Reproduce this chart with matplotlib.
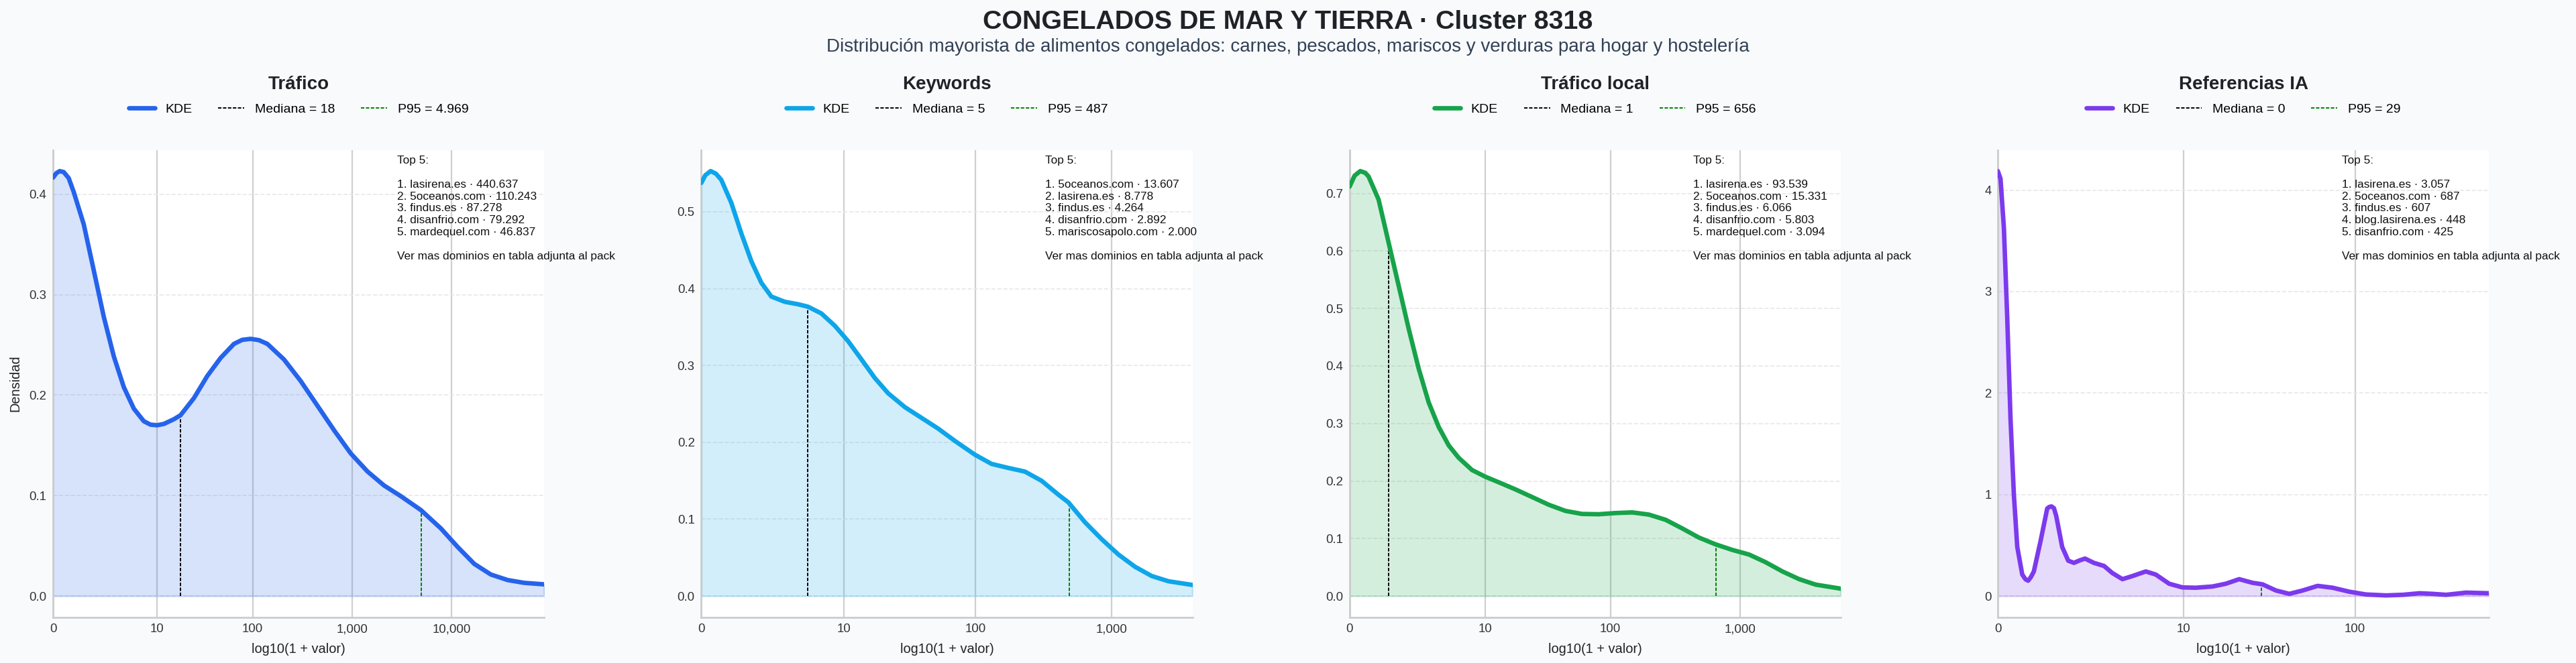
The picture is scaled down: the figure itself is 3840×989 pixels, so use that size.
import numpy as np
import matplotlib
matplotlib.use("Agg")
from matplotlib import pyplot as plt

# ---- datos (eje x = log10(1 + valor)) ----
titulos = ["Tráfico", "Keywords", "Tráfico local", "Referencias IA"]
colores = ["#2563eb", "#0ea5e9", "#16a34a", "#7c3aed"]
medianas = [18, 5, 1, 0]
p95 = [4969, 487, 656, 29]

# curva KDE de cada panel (x en log10(1+valor), y densidad)
kde_x_trafico = [0.0, 0.0335, 0.067, 0.107, 0.157, 0.208, 0.308, 0.409, 0.509, 0.610,
                 0.710, 0.811, 0.911, 0.978, 1.045, 1.112, 1.213, 1.280, 1.414, 1.548,
                 1.682, 1.816, 1.899, 1.983, 2.067, 2.151, 2.318, 2.486, 2.653, 2.821,
                 2.988, 3.156, 3.323, 3.491, 3.692, 3.893, 4.060, 4.228, 4.395, 4.563,
                 4.730, 4.930]
kde_y_trafico = [0.4165, 0.421, 0.423, 0.422, 0.416, 0.402, 0.370, 0.324, 0.278, 0.2385,
                 0.208, 0.1865, 0.174, 0.1706, 0.170, 0.1713, 0.176, 0.180, 0.197, 0.219,
                 0.237, 0.251, 0.255, 0.256, 0.2547, 0.251, 0.2355, 0.214, 0.1896, 0.165,
                 0.142, 0.124, 0.110, 0.0994, 0.0856, 0.0673, 0.049, 0.032, 0.0214, 0.0159,
                 0.0131, 0.0116]

kde_x_keywords = [0.0, 0.029, 0.068, 0.107, 0.146, 0.2195, 0.293, 0.366, 0.439, 0.512,
                  0.610, 0.707, 0.780, 0.878, 0.976, 1.073, 1.171, 1.268, 1.366, 1.488,
                  1.610, 1.732, 1.854, 2.000, 2.122, 2.244, 2.366, 2.488, 2.610, 2.683,
                  2.805, 2.927, 3.049, 3.171, 3.293, 3.415, 3.590]
kde_y_keywords = [0.5376, 0.5476, 0.553, 0.5496, 0.5416, 0.5116, 0.4716, 0.4356, 0.4076, 0.3897,
                  0.3829, 0.3797, 0.3765, 0.3677, 0.3517, 0.3317, 0.3078, 0.2838, 0.2638, 0.2458,
                  0.2318, 0.2178, 0.2018, 0.1839, 0.1719, 0.1667, 0.1619, 0.1499, 0.1319, 0.1219,
                  0.0959, 0.0739, 0.054, 0.038, 0.026, 0.0192, 0.0144]

kde_x_local = [0.0, 0.0385, 0.082, 0.1205, 0.146, 0.223, 0.3026, 0.377, 0.454, 0.531,
               0.608, 0.685, 0.762, 0.838, 0.941, 1.044, 1.146, 1.274, 1.403, 1.531,
               1.659, 1.787, 1.915, 2.044, 2.172, 2.300, 2.428, 2.556, 2.685, 2.813,
               2.941, 3.069, 3.197, 3.326, 3.454, 3.582, 3.774]
kde_y_local = [0.712, 0.731, 0.739, 0.736, 0.7296, 0.6895, 0.612, 0.540, 0.465, 0.3955,
               0.3367, 0.294, 0.2619, 0.2405, 0.2191, 0.2074, 0.1978, 0.1855, 0.1721, 0.1587,
               0.148, 0.1427, 0.1422, 0.1443, 0.1454, 0.1416, 0.1326, 0.1176, 0.1016, 0.0898,
               0.0802, 0.0722, 0.0588, 0.0428, 0.0294, 0.0198, 0.0128]

kde_x_ia = [0.0, 0.015, 0.034, 0.052, 0.071, 0.090, 0.109, 0.137, 0.155, 0.170,
            0.185, 0.202, 0.240, 0.277, 0.288, 0.301, 0.315, 0.328, 0.361, 0.395,
            0.427, 0.455, 0.489, 0.539, 0.596, 0.642, 0.699, 0.755, 0.830, 0.886,
            0.961, 1.036, 1.110, 1.204, 1.279, 1.354, 1.429, 1.485, 1.560, 1.635,
            1.710, 1.794, 1.878, 1.972, 2.066, 2.178, 2.272, 2.365, 2.440, 2.515,
            2.627, 2.755]
kde_y_ia = [4.187, 4.112, 3.628, 2.781, 1.754, 0.998, 0.484, 0.2116, 0.165, 0.151,
            0.185, 0.242, 0.544, 0.862, 0.877, 0.883, 0.865, 0.786, 0.484, 0.348,
            0.3265, 0.348, 0.369, 0.3265, 0.296, 0.227, 0.166, 0.1965, 0.242, 0.2116,
            0.121, 0.0847, 0.0816, 0.0937, 0.121, 0.166, 0.13, 0.115, 0.0544, 0.0212,
            0.0544, 0.0998, 0.0816, 0.0423, 0.0151, 0.006, 0.012, 0.0272, 0.0212, 0.012,
            0.0333, 0.0272]

kde_x = [kde_x_trafico, kde_x_keywords, kde_x_local, kde_x_ia]
kde_y = [kde_y_trafico, kde_y_keywords, kde_y_local, kde_y_ia]

# ticks del eje x (valores reales)
ticks_valores = [[0, 10, 100, 1000, 10000], [0, 10, 100, 1000], [0, 10, 100, 1000], [0, 10, 100]]

top5 = [
    ["lasirena.es · 440.637", "5oceanos.com · 110.243", "findus.es · 87.278",
     "disanfrio.com · 79.292", "mardequel.com · 46.837"],
    ["5oceanos.com · 13.607", "lasirena.es · 8.778", "findus.es · 4.264",
     "disanfrio.com · 2.892", "mariscosapolo.com · 2.000"],
    ["lasirena.es · 93.539", "5oceanos.com · 15.331", "findus.es · 6.066",
     "disanfrio.com · 5.803", "mardequel.com · 3.094"],
    ["lasirena.es · 3.057", "5oceanos.com · 687", "findus.es · 607",
     "blog.lasirena.es · 448", "disanfrio.com · 425"],
]

plt.rcParams["font.family"] = ["Liberation Sans", "DejaVu Sans"]
plt.rcParams["axes.unicode_minus"] = False

def miles(v):
    # separador de miles con punto
    return f"{v:,}".replace(",", ".")

fondo = "#f8fafc"
fig, axs = plt.subplots(1, 4, figsize=(19.2, 4.945), dpi=200, facecolor=fondo)
plt.subplots_adjust(left=0.0206, right=0.9662, bottom=0.069, top=0.774, wspace=0.32)

fig.text(0.5, 0.9565, "CONGELADOS DE MAR Y TIERRA · Cluster 8318", ha="center", va="baseline",
         fontsize=14.2, fontweight="bold", color="#1f2328")
fig.text(0.5, 0.9218, "Distribución mayorista de alimentos congelados: carnes, pescados, mariscos y "
         "verduras para hogar y hostelería", ha="center", va="baseline", fontsize=10, color="#334155")

dash = (0, (2.6, 1.2))

for i, ax in enumerate(axs):
    x = np.array(kde_x[i])
    y = np.array(kde_y[i])
    c = colores[i]

    ax.set_facecolor("white")
    ax.fill_between(x, 0, y, color=c, alpha=0.18, lw=1)
    kde_line, = ax.plot(x, y, color=c, lw=2.4, solid_capstyle="round", solid_joinstyle="round",
                        label="KDE", zorder=3)

    xm = np.log10(1 + medianas[i])
    xp = np.log10(1 + p95[i])
    med = ax.vlines(xm, 0, np.interp(xm, x, y), colors="black", linestyles=dash, lw=0.7,
                    label=f"Mediana = {miles(medianas[i])}", zorder=2.2)
    p = ax.vlines(xp, 0, np.interp(xp, x, y), colors="green", linestyles=dash, lw=0.7,
                  label=f"P95 = {miles(p95[i])}", zorder=2.2)

    ax.set_xlim(x[0], x[-1])
    tv = ticks_valores[i]
    ax.set_xticks(np.log10(1 + np.array(tv)))
    ax.set_xticklabels([f"{v:,}" for v in tv])

    # rejilla
    ax.set_axisbelow(True)
    ax.grid(axis="x", color="#cfcfcf", lw=0.8)
    ax.grid(axis="y", color="#e8e8e8", lw=0.6, ls="--")

    for s in ["top", "right"]:
        ax.spines[s].set_visible(False)
    for s in ["left", "bottom"]:
        ax.spines[s].set_color("#cccccc")
        ax.spines[s].set_linewidth(1.0)
        ax.spines[s].set_zorder(2.6)
    ax.tick_params(length=0, labelsize=6.7, colors="#333333", pad=3.5)

    ax.set_xlabel("log10(1 + valor)", fontsize=7.2, color="#222222")
    if i == 0:
        ax.set_ylabel("Densidad", fontsize=7.2, color="#222222")

    ax.set_title(titulos[i], fontsize=10, fontweight="bold", color="#1f2328", y=1.13, pad=0)
    ax.legend(handles=[kde_line, med, p], loc="center", bbox_to_anchor=(0.5, 1.087),
              ncol=3, frameon=False, fontsize=7)

    texto = "Top 5:\n\n" + "\n".join(f"{k + 1}. {t}" for k, t in enumerate(top5[i])) + \
            "\n\nVer mas dominios en tabla adjunta al pack"
    ax.text(0.70, 0.988, texto, transform=ax.transAxes, ha="left", va="top", fontsize=6.2,
            linespacing=1.24, color="#111111", zorder=5)

fig.savefig("out.png", dpi=200, facecolor=fondo)
